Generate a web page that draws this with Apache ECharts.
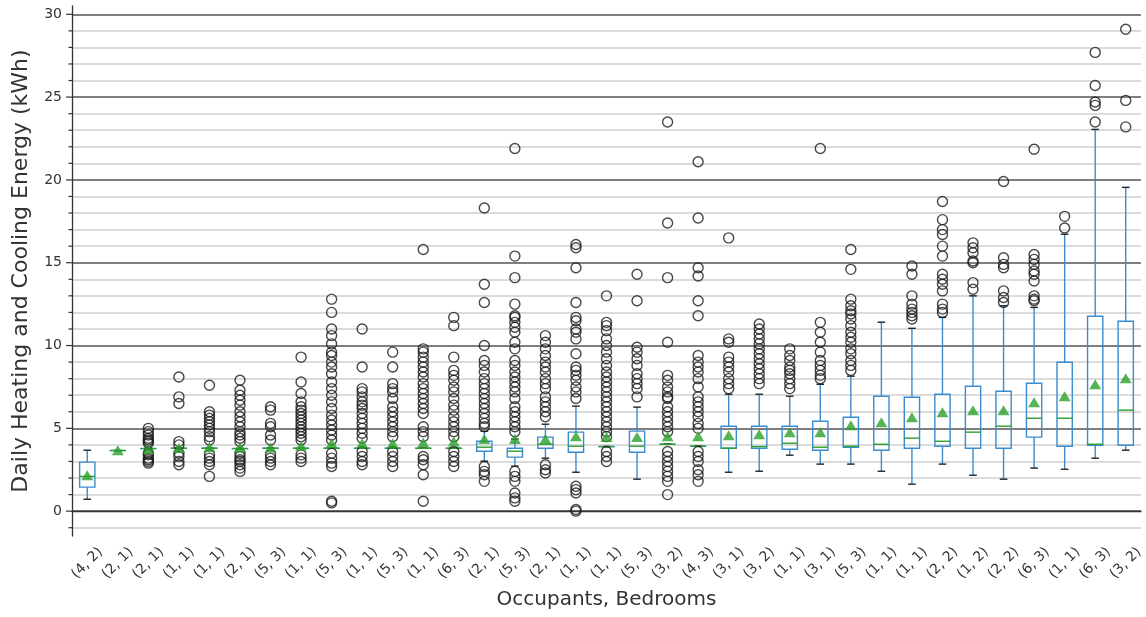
<!DOCTYPE html>
<html>
<head>
<meta charset="utf-8">
<script src="https://cdn.jsdelivr.net/npm/echarts@6/dist/echarts.min.js"></script>
<style>
  html, body { margin: 0; padding: 0; background: #fff; }
  #chart { width: 1146px; height: 617px; }
</style>
</head>
<body>
<div id="chart"></div>
<script>
// ---------- data ----------
const categories = ['(4, 2)','(2, 1)','(2, 1)','(1, 1)','(1, 1)','(2, 1)','(5, 3)','(1, 1)','(5, 3)','(1, 1)',
  '(5, 3)','(1, 1)','(6, 3)','(2, 1)','(5, 3)','(2, 1)','(1, 1)','(1, 1)','(5, 3)','(3, 2)',
  '(4, 3)','(3, 1)','(3, 2)','(1, 1)','(3, 1)','(5, 3)','(1, 1)','(1, 1)','(2, 2)','(1, 2)',
  '(2, 2)','(6, 3)','(1, 1)','(6, 3)','(3, 2)'];

const whiskerLow = [0.72,3.66,3.78,3.8,3.8,3.78,3.8,3.8,3.8,3.8,
  3.8,3.8,3.8,3.02,2.72,3.2,2.35,3.9,1.93,4.04,
  3.92,2.35,2.41,3.38,2.84,2.84,2.41,1.63,2.84,2.17,
  1.93,2.6,2.53,3.2,3.68];
const q1 = [1.45,3.66,3.78,3.8,3.8,3.78,3.8,3.8,3.8,3.8,
  3.8,3.8,3.8,3.62,3.26,3.8,3.56,3.9,3.56,4.04,
  3.92,3.8,3.8,3.74,3.68,3.86,3.68,3.8,3.92,3.8,
  3.8,4.47,3.92,3.98,3.98];
const medians = [2.1,3.66,3.78,3.8,3.8,3.78,3.8,3.8,3.8,3.8,
  3.8,3.8,3.8,3.86,3.62,4.04,3.92,3.9,3.92,4.04,
  3.92,3.8,3.9,4.1,3.86,3.92,4.04,4.41,4.22,4.77,
  5.13,5.61,5.61,4.04,6.1];
const q3 = [2.96,3.66,3.78,3.8,3.8,3.78,3.8,3.8,3.8,3.8,
  3.8,3.8,3.8,4.22,3.8,4.47,4.77,3.9,4.83,4.04,
  3.92,5.13,5.13,5.13,5.43,5.67,6.94,6.88,7.06,7.54,
  7.24,7.72,8.99,11.77,11.47];
const whiskerHigh = [3.68,3.66,3.78,3.8,3.8,3.78,3.8,3.8,3.8,3.8,
  3.8,3.8,3.8,4.83,4.35,5.25,6.34,3.9,6.28,4.04,
  3.92,7.06,7.06,6.94,7.66,8.15,11.41,11.04,11.7,13.0,
  12.4,12.3,16.72,23.05,19.55];
const means = [2.17,3.68,3.76,3.82,3.88,3.85,3.85,3.95,4.1,4.1,
  4.1,4.15,4.2,4.35,4.35,4.35,4.53,4.47,4.47,4.53,
  4.53,4.59,4.65,4.77,4.77,5.19,5.37,5.67,5.97,6.1,
  6.1,6.58,6.94,7.66,8.03];
const outliers = [
  [],
  [],
  [5.0,4.8,4.6,4.4,4.3,4.2,4.1,3.5,3.4,3.2,3.1,3.0,2.9],
  [8.1,6.9,6.5,4.2,4.0,3.5,3.3,3.0,2.8],
  [7.6,6.0,5.8,5.6,5.4,5.2,5.0,4.8,4.5,4.3,3.4,3.2,3.0,2.8,2.1],
  [7.9,7.3,7.0,6.7,6.4,6.0,5.7,5.4,5.1,4.8,4.6,4.4,4.2,3.5,3.3,3.1,3.0,2.8,2.6,2.4],
  [6.3,6.1,5.3,5.1,4.6,4.3,3.4,3.2,3.0,2.8],
  [9.3,7.8,7.1,6.6,6.3,6.1,5.9,5.7,5.5,5.3,5.1,4.9,4.7,4.5,4.3,3.4,3.2,3.0],
  [12.8,12.0,11.0,10.6,10.1,9.6,9.4,9.0,8.7,8.3,7.8,7.4,7.0,6.6,6.2,5.8,5.5,5.2,4.9,4.6,4.3,3.5,3.2,2.9,2.7,0.6,0.5],
  [11.0,8.7,7.4,7.2,6.9,6.6,6.4,6.2,5.9,5.6,5.3,5.0,4.7,4.4,3.6,3.3,3.0,2.8],
  [9.6,8.7,7.7,7.4,7.2,6.8,6.3,6.0,5.7,5.4,5.1,4.8,4.5,3.6,3.3,3.0,2.7],
  [15.8,9.8,9.6,9.3,9.0,8.7,8.4,8.1,7.7,7.4,7.1,6.8,6.5,6.2,5.9,5.1,4.8,4.5,3.3,3.1,2.8,2.2,0.6],
  [11.7,11.2,9.3,8.5,8.2,7.9,7.5,7.2,6.8,6.4,6.1,5.7,5.4,5.1,4.8,4.5,3.6,3.3,3.0,2.7],
  [18.3,13.7,12.6,10.0,9.1,8.8,8.4,8.0,7.7,7.4,7.1,6.8,6.5,6.2,5.9,5.6,5.3,5.1,2.7,2.4,2.2,1.8],
  [21.9,15.4,14.1,12.5,11.8,11.7,11.4,11.1,10.8,10.2,9.8,9.1,8.8,8.4,8.1,7.8,7.5,7.2,6.8,6.3,6.0,5.7,5.4,5.1,4.8,2.4,2.1,1.8,1.1,0.8,0.6],
  [10.6,10.2,9.8,9.4,9.0,8.7,8.4,8.0,7.7,7.4,6.9,6.6,6.3,6.0,5.7,2.8,2.5,2.3],
  [16.1,15.9,14.7,12.6,11.7,11.5,11.0,10.8,10.4,9.5,8.7,8.5,8.2,7.9,7.5,7.2,6.8,1.5,1.3,1.1,0.1,0.0],
  [13.0,11.4,11.2,10.9,10.4,10.0,9.6,9.2,8.8,8.4,8.1,7.8,7.5,7.2,6.9,6.6,6.3,6.0,5.7,5.4,5.1,4.8,4.5,3.6,3.3,3.0],
  [14.3,12.7,9.9,9.6,9.2,8.8,8.3,8.0,7.7,7.4,6.9],
  [23.5,17.4,14.1,10.2,8.2,7.9,7.5,7.2,6.9,6.8,6.3,6.0,5.7,5.4,5.1,4.8,3.6,3.3,3.0,2.7,2.4,2.1,1.8,1.0],
  [21.1,17.7,14.7,14.2,12.7,11.8,9.4,9.0,8.7,8.4,8.0,7.5,6.9,6.6,6.3,6.0,5.7,5.3,5.0,3.6,3.3,3.0,2.5,2.2,1.8],
  [16.5,10.4,10.2,9.3,9.0,8.7,8.4,8.0,7.7,7.4],
  [11.3,11.0,10.7,10.4,10.1,9.8,9.5,9.2,8.9,8.6,8.3,8.0,7.7],
  [9.8,9.4,9.1,8.7,8.5,8.3,8.0,7.7,7.4],
  [21.9,11.4,10.8,10.2,9.6,9.1,8.8,8.5,8.2,8.0],
  [15.8,14.6,12.8,12.4,12.1,11.9,11.6,11.2,10.8,10.5,10.2,9.8,9.5,9.1,8.8,8.5],
  [],
  [14.8,14.3,13.0,12.5,12.2,12.0,11.8,11.6],
  [18.7,17.6,17.0,16.7,16.0,15.4,14.3,14.0,13.7,13.3,12.5,12.2,12.0],
  [16.2,15.9,15.6,15.1,15.0,13.8,13.4],
  [19.9,15.3,14.9,14.7,13.3,12.9,12.6],
  [21.85,15.5,15.2,14.9,14.5,14.3,13.9,13.0,12.8,12.7],
  [17.8,17.1],
  [27.7,25.7,24.7,24.5,23.5],
  [29.1,24.8,23.2]
];
const yTickLabels = [0, 5, 10, 15, 20, 25, 30];
const minorTicks = [-1,1,2,3,4,6,7,8,9,11,12,13,14,16,17,18,19,21,22,23,24,26,27,28,29];

// ---------- styles ----------
const BLUE = '#3a8cd0';
const GREEN = '#2ca02c';
const FONT = 'DejaVu Sans';

const boxData = categories.map((c, i) => [i, whiskerLow[i], q1[i], medians[i], q3[i], whiskerHigh[i]]);
const meanData = means.map((m, i) => [i, m]);
const outlierData = [];
outliers.forEach((arr, i) => arr.forEach(v => outlierData.push([i, v])));
const tickData = yTickLabels.map(v => [0, v, 1]).concat(minorTicks.map(v => [0, v, 0]));

function renderBox(params, api) {
  const i = api.value(0);
  const band = api.size([1, 0])[0];
  const hw = band * 0.25, cw = band * 0.125;
  const x = api.coord([i, api.value(3)])[0];
  const yWl = api.coord([i, api.value(1)])[1];
  const yQ1 = api.coord([i, api.value(2)])[1];
  const yMed = api.coord([i, api.value(3)])[1];
  const yQ3 = api.coord([i, api.value(4)])[1];
  const yWh = api.coord([i, api.value(5)])[1];
  const bs = { stroke: BLUE, lineWidth: 1.4, fill: 'none' };
  return {
    type: 'group',
    children: [
      { type: 'rect', shape: { x: x - hw, y: yQ3, width: 2 * hw, height: Math.max(yQ1 - yQ3, 0.01) }, style: bs },
      { type: 'line', shape: { x1: x, y1: yQ1, x2: x, y2: yWl }, style: bs },
      { type: 'line', shape: { x1: x, y1: yQ3, x2: x, y2: yWh }, style: bs },
      { type: 'line', shape: { x1: x - cw, y1: yWl, x2: x + cw, y2: yWl }, style: { stroke: '#222', lineWidth: 1.4 } },
      { type: 'line', shape: { x1: x - cw, y1: yWh, x2: x + cw, y2: yWh }, style: { stroke: '#222', lineWidth: 1.4 } },
      { type: 'line', shape: { x1: x - hw, y1: yMed, x2: x + hw, y2: yMed }, style: { stroke: GREEN, lineWidth: 1.4 } }
    ]
  };
}

function renderTick(params, api) {
  const y = api.coord([0, api.value(1)])[1];
  const left = params.coordSys.x;
  const len = api.value(2) ? 6 : 3.5;
  return { type: 'line', shape: { x1: left - len, y1: y, x2: left, y2: y }, style: { stroke: '#333', lineWidth: 1.2 } };
}

const chart = echarts.init(document.getElementById('chart'), null, { renderer: 'canvas' });
chart.setOption({
  animation: false,
  backgroundColor: '#fff',
  textStyle: { fontFamily: FONT },
  grid: { left: 72, right: 5, top: 6, bottom: 81, containLabel: false, outerBoundsMode: 'none' },
  xAxis: {
    type: 'category',
    data: categories,
    boundaryGap: true,
    axisLine: { show: true, lineStyle: { color: '#333', width: 1.3 } },
    axisTick: { show: false },
    splitLine: { show: false },
    axisLabel: {
      interval: 0, rotate: 45, align: 'center', verticalAlign: 'middle', margin: 27,
      fontSize: 14, color: '#333', fontFamily: FONT
    },
    name: 'Occupants, Bedrooms',
    nameLocation: 'middle',
    nameGap: 54,
    nameTextStyle: { fontSize: 20, color: '#333', fontFamily: FONT }
  },
  yAxis: {
    type: 'value',
    min: -1.5, max: 30.5, interval: 0.5,
    axisLine: { show: true, lineStyle: { color: '#333', width: 1.3 } },
    axisTick: { show: false },
    axisLabel: {
      margin: 10, fontSize: 14, color: '#333', fontFamily: FONT,
      formatter: v => (yTickLabels.indexOf(v) >= 0 ? String(v) : '')
    },
    splitLine: {
      show: true, showMinLine: true, showMaxLine: true,
      lineStyle: {
        width: 1.5,
        color: ['rgba(0,0,0,0)', '#cfcfcf', 'rgba(0,0,0,0)', '#555', 'rgba(0,0,0,0)', '#cfcfcf', 'rgba(0,0,0,0)', '#cfcfcf', 'rgba(0,0,0,0)', '#cfcfcf']
      }
    },
    name: 'Daily Heating and Cooling Energy (kWh)',
    nameLocation: 'middle',
    nameGap: 40,
    nameTextStyle: { fontSize: 22, color: '#333', fontFamily: FONT }
  },
  series: [
    { type: 'custom', name: 'ticks', data: tickData, encode: { x: 0, y: 1 }, renderItem: renderTick, silent: true, clip: false },
    { type: 'custom', name: 'boxes', data: boxData, encode: { x: 0, y: [1, 2, 3, 4, 5] }, renderItem: renderBox, silent: true, z: 3 },
    {
      type: 'scatter', name: 'outliers', data: outlierData, symbol: 'circle', symbolSize: 10, silent: true, z: 4,
      itemStyle: { color: 'rgba(0,0,0,0)', borderColor: '#1a1a1a', borderWidth: 1.4 }
    },
    {
      type: 'scatter', name: 'means', data: meanData, symbol: 'triangle', symbolSize: [12, 10], silent: true, z: 5,
      itemStyle: { color: GREEN }
    }
  ]
});
</script>
</body>
</html>
